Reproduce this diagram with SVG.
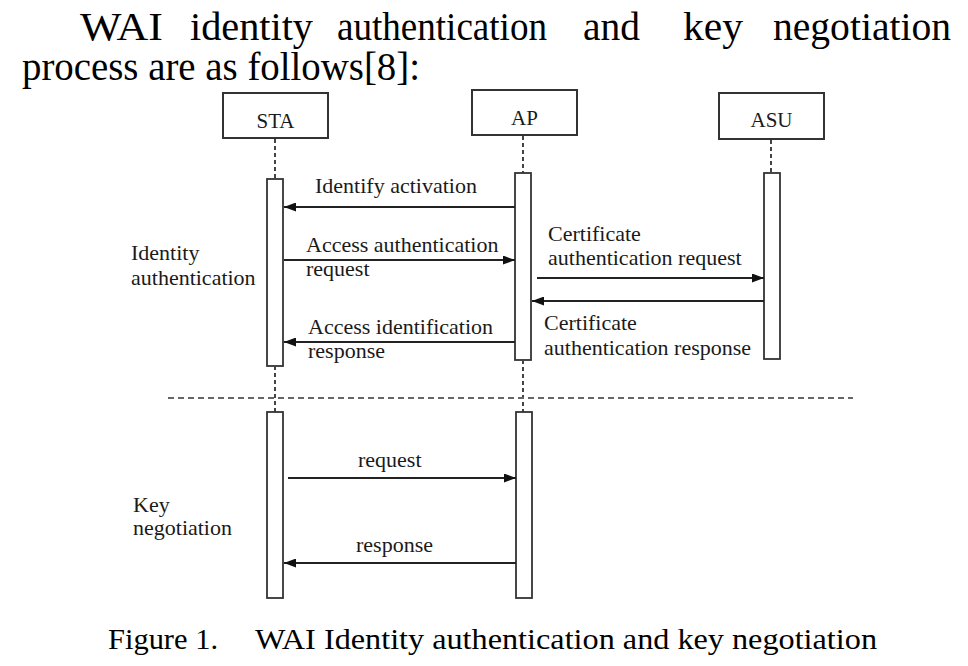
<svg xmlns="http://www.w3.org/2000/svg" width="968" height="666" viewBox="0 0 968 666">
<style>
  .hdr{font-family:"Liberation Serif","Times New Roman",serif;font-size:40px;fill:#000}
  .cap{font-family:"Liberation Serif","Times New Roman",serif;font-size:30px;fill:#000}
  .lbl{font-family:"Liberation Serif","Times New Roman",serif;font-size:22px;fill:#1a1a1a}
  .name{font-family:"Liberation Serif","Times New Roman",serif;font-size:21px;fill:#1a1a1a;text-anchor:middle}
  .box{fill:#fff;stroke:#333;stroke-width:2}
  .bar{fill:#fff;stroke:#333;stroke-width:1.8}
  .life{stroke:#444;stroke-width:2;stroke-dasharray:4 3;fill:none}
  .sep{stroke:#666;stroke-width:2;stroke-dasharray:6 4;fill:none}
  .msg{stroke:#222;stroke-width:2;fill:none;marker-end:url(#ah)}
</style>
<defs>
  <marker id="ah" viewBox="0 0 12 9" refX="12" refY="4.5" markerWidth="12" markerHeight="9" markerUnits="userSpaceOnUse" orient="auto">
    <path d="M0,0 L12,4.5 L0,9 Z" fill="#111"/>
  </marker>
</defs>
<rect width="968" height="666" fill="#fff"/>

<g id="header">
  <text class="hdr" x="80" y="40" textLength="83" lengthAdjust="spacingAndGlyphs">WAI</text>
  <text class="hdr" x="190" y="40" textLength="123" lengthAdjust="spacingAndGlyphs">identity</text>
  <text class="hdr" x="337" y="40" textLength="210" lengthAdjust="spacingAndGlyphs">authentication</text>
  <text class="hdr" x="583" y="40" textLength="57" lengthAdjust="spacingAndGlyphs">and</text>
  <text class="hdr" x="683" y="40" textLength="60" lengthAdjust="spacingAndGlyphs">key</text>
  <text class="hdr" x="773" y="40" textLength="178" lengthAdjust="spacingAndGlyphs">negotiation</text>
  <text class="hdr" x="22" y="80" textLength="398" lengthAdjust="spacingAndGlyphs">process are as follows[8]:</text>
</g>

<g id="STA">
  <rect class="box" x="223" y="93" width="105" height="45"/>
  <text class="name" x="275.5" y="128">STA</text>
  <line class="life" x1="275" y1="139" x2="275" y2="179"/>
  <rect class="bar" x="267" y="179" width="16" height="187"/>
  <line class="life" x1="275" y1="366" x2="275" y2="412"/>
  <rect class="bar" x="267" y="412" width="16" height="186"/>
</g>

<g id="AP">
  <rect class="box" x="472" y="90" width="105" height="45"/>
  <text class="name" x="524.5" y="125">AP</text>
  <line class="life" x1="523" y1="136" x2="523" y2="173"/>
  <rect class="bar" x="515" y="173" width="16" height="187"/>
  <line class="life" x1="523" y1="360" x2="523" y2="412"/>
  <rect class="bar" x="516" y="412" width="16" height="186"/>
</g>

<g id="ASU">
  <rect class="box" x="719" y="93" width="105" height="46"/>
  <text class="name" x="771.5" y="127">ASU</text>
  <line class="life" x1="771" y1="140" x2="771" y2="173"/>
  <rect class="bar" x="764" y="173" width="16" height="186"/>
</g>

<g id="phases">
  <text class="lbl" x="131" y="260">Identity</text>
  <text class="lbl" x="131" y="285">authentication</text>
  <text class="lbl" x="133" y="512">Key</text>
  <text class="lbl" x="133" y="535">negotiation</text>
  <line class="sep" x1="168" y1="398" x2="853" y2="398"/>
</g>

<g id="connectors">
  <line class="msg" x1="515" y1="207" x2="284" y2="207"/>
  <text class="lbl" x="315" y="193">Identify activation</text>

  <line class="msg" x1="284" y1="260" x2="515" y2="260"/>
  <text class="lbl" x="306" y="252">Access authentication</text>
  <text class="lbl" x="306" y="276">request</text>

  <line class="msg" x1="515" y1="342" x2="284" y2="342"/>
  <text class="lbl" x="308" y="334">Access identification</text>
  <text class="lbl" x="308" y="358">response</text>

  <line class="msg" x1="537" y1="278" x2="764" y2="278"/>
  <text class="lbl" x="548" y="241">Certificate</text>
  <text class="lbl" x="548" y="265">authentication request</text>

  <line class="msg" x1="764" y1="301" x2="532" y2="301"/>
  <text class="lbl" x="544" y="330">Certificate</text>
  <text class="lbl" x="544" y="355">authentication response</text>

  <line class="msg" x1="288" y1="478" x2="516" y2="478"/>
  <text class="lbl" x="358" y="467">request</text>

  <line class="msg" x1="516" y1="563" x2="284" y2="563"/>
  <text class="lbl" x="356" y="552">response</text>
</g>

<g id="caption">
  <text class="cap" x="108" y="649" textLength="110" lengthAdjust="spacingAndGlyphs">Figure 1.</text>
  <text class="cap" x="255" y="649" textLength="622" lengthAdjust="spacingAndGlyphs">WAI Identity authentication and key negotiation</text>
</g>
</svg>
